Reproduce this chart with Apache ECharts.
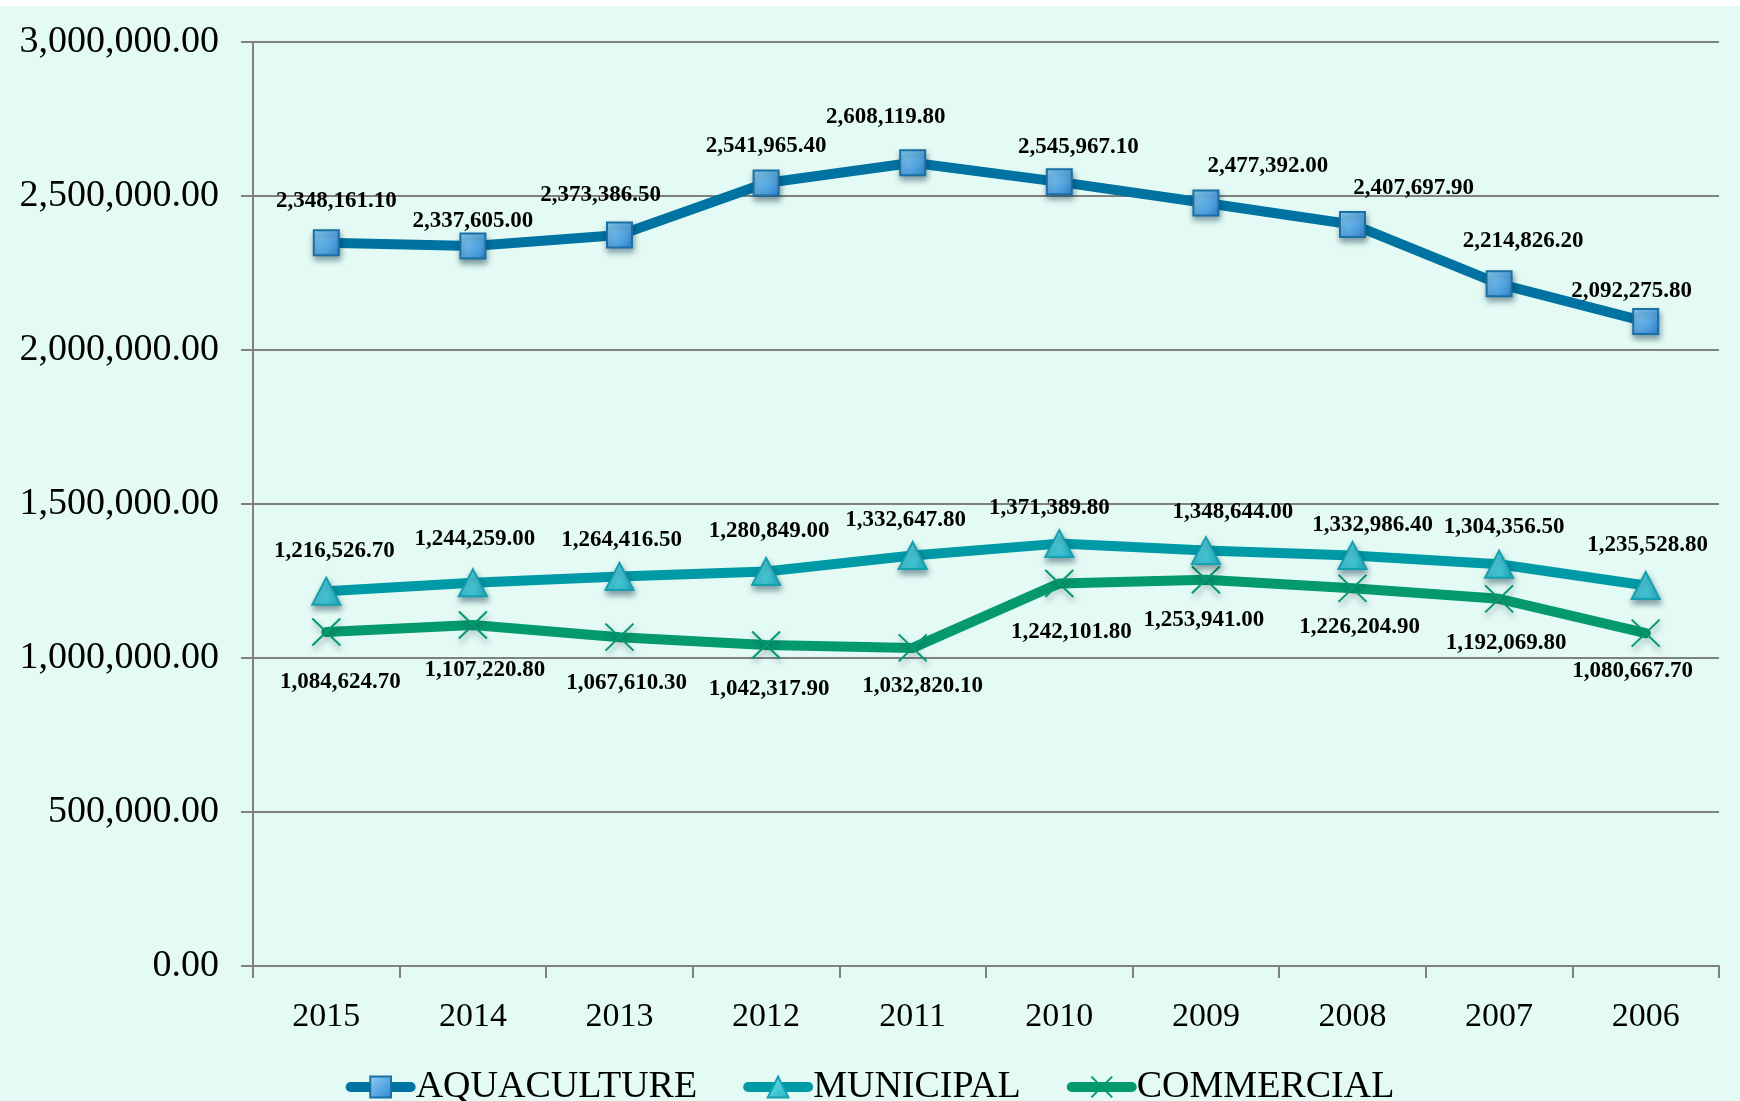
<!DOCTYPE html>
<html>
<head>
<meta charset="utf-8">
<script src="https://cdn.jsdelivr.net/npm/echarts@6/dist/echarts.min.js"></script>
<style>
  html, body { margin: 0; padding: 0; background: #ffffff; width: 1740px; height: 1101px; overflow: hidden; }
  #chart { position: absolute; left: 0; top: 6px; width: 1740px; height: 1095px; }
</style>
</head>
<body>
<div id="chart"></div>
<script>
// Production volumes by sector, 2015 back to 2006
const years = ['2015', '2014', '2013', '2012', '2011', '2010', '2009', '2008', '2007', '2006'];
const aquaculture = [2348161.10, 2337605.00, 2373386.50, 2541965.40, 2608119.80, 2545967.10, 2477392.00, 2407697.90, 2214826.20, 2092275.80];
const municipal = [1216526.70, 1244259.00, 1264416.50, 1280849.00, 1332647.80, 1371389.80, 1348644.00, 1332986.40, 1304356.50, 1235528.80];
const commercial = [1084624.70, 1107220.80, 1067610.30, 1042317.90, 1032820.10, 1242101.80, 1253941.00, 1226204.90, 1192069.80, 1080667.70];

// Value-axis range and step
const yMin = 0;
const yMax = 3000000;
const yStep = 500000;

// Label nudges (pixels) so the value labels sit clear of the lines
const aquaLabelShift = [[10, -42], [0, -25], [-19, -40], [0, -37], [-27, -46], [19, -35], [62, -37], [61, -36], [24, -43], [-14, -31]];
const muniLabelShift = [[8, -40], [2, -44], [2, -36], [3, -40], [-7, -35], [-10, -36], [27, -39], [20, -30], [5, -37], [2, -40]];
const commLabelShift = [[14, 50], [12, 45], [7, 46], [3, 44], [10, 38], [12, 49], [-2, 40], [7, 39], [7, 44], [-13, 38]];

const fmt = v => Number(v).toLocaleString('en-US', { minimumFractionDigits: 2, maximumFractionDigits: 2 });
const FONT = '"Liberation Serif", "Times New Roman", serif';

function withLabels(values, shifts) {
  return values.map((v, i) => ({ value: v, label: { offset: shifts[i] } }));
}

const labelStyle = {
  show: true,
  position: 'inside',
  formatter: p => fmt(p.value),
  fontFamily: FONT,
  fontSize: 23,
  fontWeight: 'bold',
  color: '#000000'
};

const markerShadow = {
  shadowBlur: 6,
  shadowColor: 'rgba(0, 40, 60, 0.45)',
  shadowOffsetX: 1,
  shadowOffsetY: 4
};

const chart = echarts.init(document.getElementById('chart'), null, { renderer: 'canvas' });

chart.setOption({
  animation: false,
  backgroundColor: '#e4fbf5',
  grid: { left: 253, right: 21, top: 36, bottom: 135, containLabel: false },
  legend: {
    top: 1057,
    left: 'center',
    itemWidth: 60,
    itemHeight: 26,
    itemGap: 46,
    lineStyle: { width: 10, cap: 'round' },
    textStyle: { fontFamily: FONT, fontSize: 38, color: '#000000' },
    data: ['AQUACULTURE', 'MUNICIPAL', 'COMMERCIAL']
  },
  xAxis: {
    type: 'category',
    data: years,
    boundaryGap: true,
    axisLine: { show: true, lineStyle: { color: '#808080', width: 2 } },
    axisTick: { show: true, length: 12, lineStyle: { color: '#808080', width: 2 } },
    axisLabel: { margin: 34, fontFamily: FONT, fontSize: 34, color: '#000000' },
    splitLine: { show: false }
  },
  yAxis: {
    type: 'value',
    min: yMin,
    max: yMax,
    interval: yStep,
    axisLine: { show: true, lineStyle: { color: '#808080', width: 2 } },
    axisTick: { show: true, length: 12, lineStyle: { color: '#808080', width: 2 } },
    axisLabel: { margin: 34, fontFamily: FONT, fontSize: 38, color: '#000000', formatter: v => fmt(v) },
    splitLine: { show: true, lineStyle: { color: '#808080', width: 2 } }
  },
  series: [
    {
      name: 'AQUACULTURE',
      type: 'line',
      data: withLabels(aquaculture, aquaLabelShift),
      symbol: 'rect',
      symbolSize: 25,
      z: 4,
      lineStyle: { color: '#0073a2', width: 10, cap: 'round', join: 'round' },
      itemStyle: Object.assign({
        color: {
          type: 'linear', x: 0, y: 0, x2: 1, y2: 1,
          colorStops: [{ offset: 0, color: '#8fd2f7' }, { offset: 1, color: '#2e86cf' }]
        },
        borderColor: '#1a6fa4',
        borderWidth: 2
      }, markerShadow),
      label: labelStyle
    },
    {
      name: 'MUNICIPAL',
      type: 'line',
      data: withLabels(municipal, muniLabelShift),
      symbol: 'triangle',
      symbolSize: [28, 27],
      z: 3,
      lineStyle: { color: '#0099a6', width: 10, cap: 'round', join: 'round' },
      itemStyle: Object.assign({
        color: {
          type: 'linear', x: 0, y: 0, x2: 1, y2: 1,
          colorStops: [{ offset: 0, color: '#6fe0ec' }, { offset: 1, color: '#25b4c8' }]
        },
        borderColor: '#12a0ae',
        borderWidth: 2
      }, markerShadow),
      label: labelStyle
    },
    {
      name: 'COMMERCIAL',
      type: 'line',
      data: withLabels(commercial, commLabelShift),
      symbol: 'path://M0,0L24,24M24,0L0,24',
      symbolSize: [28, 27],
      z: 2,
      lineStyle: { color: '#05996e', width: 10, cap: 'round', join: 'round' },
      itemStyle: Object.assign({
        color: '#05996e',
        borderColor: '#05996e',
        borderWidth: 2
      }, markerShadow),
      label: labelStyle
    }
  ]
});
</script>
</body>
</html>
